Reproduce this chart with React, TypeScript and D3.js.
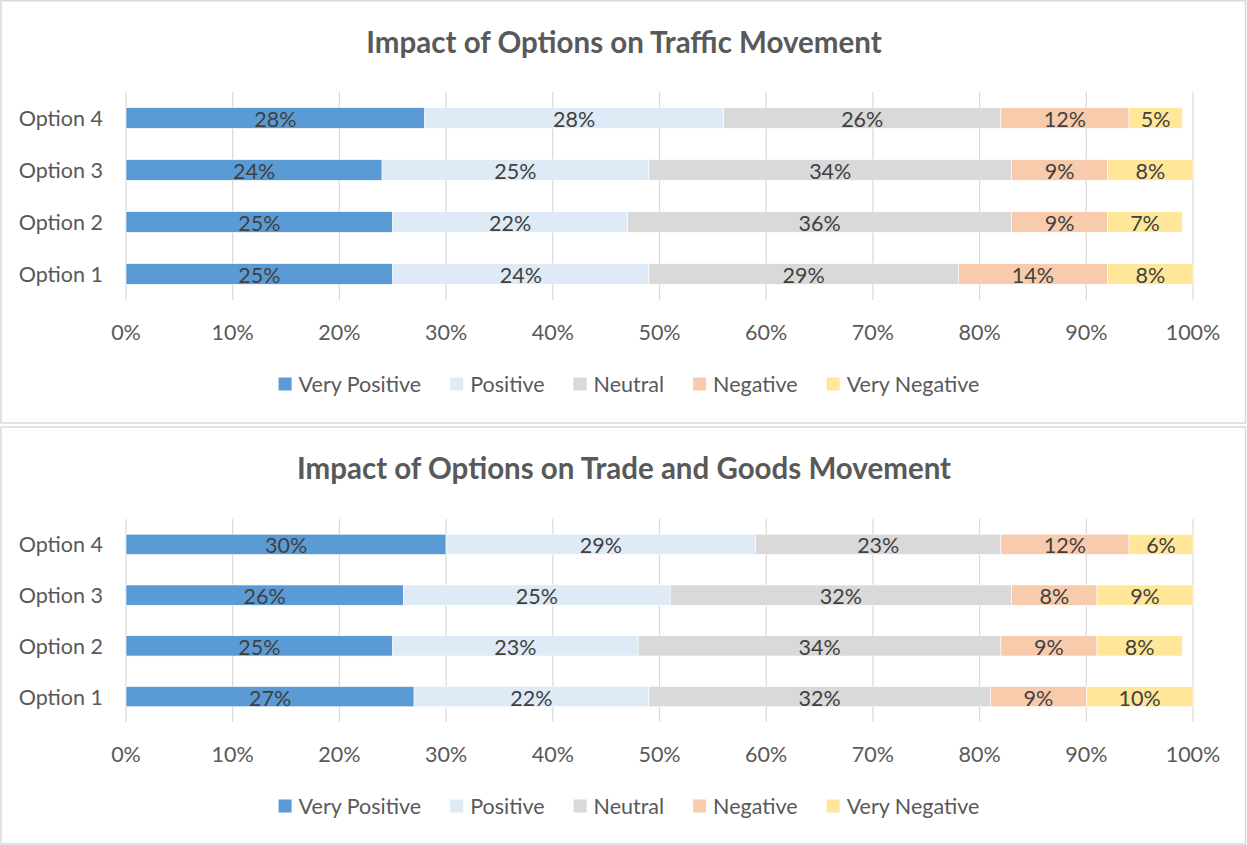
import React, { useEffect, useRef } from 'react';
import * as d3 from 'd3';

// categories, top to bottom in the picture is Option 4 .. Option 1
const options = ['Option 1', 'Option 2', 'Option 3', 'Option 4'];
const responses = ['Very Positive', 'Positive', 'Neutral', 'Negative', 'Very Negative'];
const responseColors = ['#5B9BD5', '#DEEBF7', '#D9D9D9', '#F8CBAD', '#FFE699'];
const xTicks = [0, 10, 20, 30, 40, 50, 60, 70, 80, 90, 100];

// Impact on traffic movement (%), per option 1..4
const trafficVeryPositive = [25, 25, 24, 28];
const trafficPositive = [24, 22, 25, 28];
const trafficNeutral = [29, 36, 34, 26];
const trafficNegative = [14, 9, 9, 12];
const trafficVeryNegative = [8, 7, 8, 5];

// Impact on trade and goods movement (%), per option 1..4
const tradeVeryPositive = [27, 25, 26, 30];
const tradePositive = [22, 23, 25, 29];
const tradeNeutral = [32, 34, 32, 23];
const tradeNegative = [9, 9, 8, 12];
const tradeVeryNegative = [10, 8, 9, 6];

const FONT = 'Lato, "Open Sans", sans-serif';
const FS = 21.5;

interface PanelLayout {
  top: number;
  bottom: number;
  titleY: number;
  plotTop: number;
  plotBottom: number;
  tickY: number;
  legendY: number;
}

const buildRows = (series: number[][]) =>
  options.map((opt, i) => {
    const row: Record<string, any> = { option: opt };
    responses.forEach((r, j) => { row[r] = series[j][i]; });
    return row;
  });

const drawPanel = (
  svg: d3.Selection<SVGSVGElement, unknown, null, undefined>,
  title: string,
  series: number[][],
  L: PanelLayout
) => {
  const width = 1247;
  const g = svg.append('g');

  // panel frame
  g.append('rect')
    .attr('x', 1).attr('y', L.top)
    .attr('width', width - 2.5).attr('height', L.bottom - L.top)
    .attr('fill', '#fff')
    .attr('stroke', '#D9D9D9')
    .attr('stroke-width', 1.5);

  g.append('text')
    .attr('x', 624).attr('y', L.titleY)
    .attr('text-anchor', 'middle')
    .attr('dominant-baseline', 'central')
    .attr('font-family', FONT)
    .attr('font-weight', 'bold')
    .attr('font-size', 29.5)
    .attr('fill', '#595959')
    .text(title);

  const x = d3.scaleLinear().domain([0, 100]).range([126, 1193]);
  const y = d3.scaleBand<string>()
    .domain([...options].reverse())
    .range([L.plotTop, L.plotBottom])
    .paddingInner(0.6)
    .paddingOuter(0.3);

  // gridlines
  g.append('g').selectAll('line')
    .data(xTicks)
    .enter().append('line')
    .attr('x1', d => x(d)).attr('x2', d => x(d))
    .attr('y1', L.plotTop).attr('y2', L.plotBottom)
    .attr('stroke', '#D9D9D9')
    .attr('stroke-width', 1.2);

  // tick labels
  g.append('g').selectAll('text')
    .data(xTicks)
    .enter().append('text')
    .attr('x', d => x(d)).attr('y', L.tickY)
    .attr('text-anchor', 'middle')
    .attr('dominant-baseline', 'central')
    .attr('font-family', FONT)
    .attr('font-size', FS)
    .attr('fill', '#595959')
    .text(d => `${d}%`);

  // category labels
  g.append('g').selectAll('text')
    .data(options)
    .enter().append('text')
    .attr('x', 103)
    .attr('y', d => (y(d) as number) + y.bandwidth() / 2)
    .attr('text-anchor', 'end')
    .attr('dominant-baseline', 'central')
    .attr('font-family', FONT)
    .attr('font-size', FS)
    .attr('fill', '#595959')
    .text(d => d);

  const rows = buildRows(series);
  const stacked = d3.stack<any>().keys(responses)(rows);

  const layers = g.append('g').selectAll('g')
    .data(stacked)
    .enter().append('g')
    .attr('fill', (_d, i) => responseColors[i]);

  layers.selectAll('rect')
    .data(d => d)
    .enter().append('rect')
    .attr('x', d => x(d[0]))
    .attr('width', d => x(d[1]) - x(d[0]))
    .attr('y', d => y(d.data.option) as number)
    .attr('height', y.bandwidth())
    .attr('stroke', '#fff')
    .attr('stroke-width', 0.6);

  layers.selectAll('text')
    .data(d => d.map(v => ({ v, key: d.key })))
    .enter().append('text')
    .attr('x', d => (x(d.v[0]) + x(d.v[1])) / 2)
    .attr('y', d => (y(d.v.data.option) as number) + y.bandwidth() / 2 + 1)
    .attr('text-anchor', 'middle')
    .attr('dominant-baseline', 'central')
    .attr('font-family', FONT)
    .attr('font-size', FS)
    .attr('fill', '#404040')
    .text(d => `${d.v.data[d.key]}%`);

  // legend, centred
  const legend = g.append('g');
  const items = legend.selectAll('g')
    .data(responses)
    .enter().append('g');
  items.append('rect')
    .attr('width', 13).attr('height', 13)
    .attr('y', L.legendY - 6.5)
    .attr('fill', (_d, i) => responseColors[i]);
  items.append('text')
    .attr('x', 20)
    .attr('y', L.legendY)
    .attr('dominant-baseline', 'central')
    .attr('font-family', FONT)
    .attr('font-size', FS)
    .attr('fill', '#595959')
    .text(d => d);

  const widths: number[] = [];
  items.select('text').each(function () {
    widths.push((this as SVGTextElement).getComputedTextLength() + 20);
  });
  const gap = 29;
  const total = d3.sum(widths) + gap * (widths.length - 1);
  let cx = 629 - total / 2;
  items.attr('transform', (_d, i) => {
    const t = `translate(${cx},0)`;
    cx += widths[i] + gap;
    return t;
  });
};

const App: React.FC = () => {
  const svgRef = useRef<SVGSVGElement>(null);

  useEffect(() => {
    document.body.style.margin = '0';
    if (!svgRef.current) return;
    const svg = d3.select(svgRef.current);
    svg.selectAll('*').remove();

    drawPanel(svg, 'Impact of Options on Traffic Movement',
      [trafficVeryPositive, trafficPositive, trafficNeutral, trafficNegative, trafficVeryNegative],
      { top: 0.75, bottom: 423, titleY: 41, plotTop: 92, plotBottom: 300, tickY: 332, legendY: 384 });

    drawPanel(svg, 'Impact of Options on Trade and Goods Movement',
      [tradeVeryPositive, tradePositive, tradeNeutral, tradeNegative, tradeVeryNegative],
      { top: 427, bottom: 844, titleY: 467, plotTop: 519, plotBottom: 722, tickY: 754, legendY: 806 });
  }, []);

  return (
    <svg ref={svgRef} width={1247} height={845} style={{ display: 'block', background: '#fff' }} />
  );
};

export default App;
